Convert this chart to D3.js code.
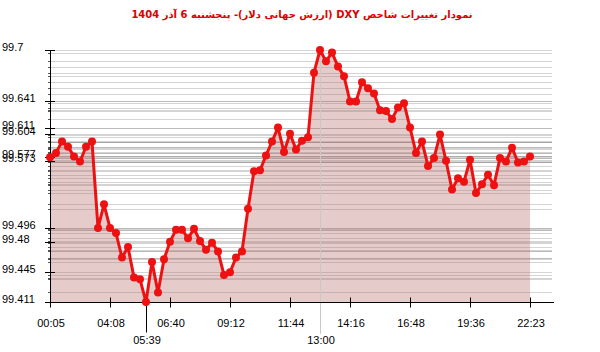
<!DOCTYPE html>
<html>
<head>
<meta charset="utf-8">
<script src="https://cdn.jsdelivr.net/npm/d3@7"></script>
<style>
  body { margin: 0; background: #fff; }
  text { font-family: "Liberation Sans", Arial, sans-serif; }
</style>
</head>
<body>
<svg id="chart" width="600" height="352"></svg>
<script>
// DXY values, one per sample
var values = [
  99.577, 99.582, 99.595, 99.589, 99.578, 99.572, 99.589, 99.595, 99.496, 99.523,
  99.496, 99.490, 99.462, 99.474, 99.439, 99.437, 99.411, 99.457, 99.422, 99.460,
  99.480, 99.494, 99.494, 99.484, 99.495, 99.481, 99.471, 99.479, 99.469, 99.442,
  99.445, 99.462, 99.469, 99.518, 99.561, 99.562, 99.579, 99.595, 99.611, 99.583,
  99.604, 99.586, 99.596, 99.600, 99.674, 99.700, 99.687, 99.697, 99.681, 99.670,
  99.641, 99.641, 99.663, 99.656, 99.650, 99.631, 99.630, 99.621, 99.634, 99.639,
  99.611, 99.582, 99.595, 99.567, 99.576, 99.603, 99.573, 99.540, 99.553, 99.549,
  99.574, 99.536, 99.546, 99.557, 99.545, 99.576, 99.572, 99.588, 99.571, 99.572,
  99.578
];
var tickIdx = [0, 10, 20, 30, 40, 50, 60, 70, 80];
var tickLabels = ["00:05", "04:08", "06:40", "09:12", "11:44", "14:16", "16:48", "19:36", "22:23"];
var minIdx = 16, minLabel = "05:39";
var maxIdx = 45, maxLabel = "13:00";
var yTicks = [99.7, 99.641, 99.611, 99.604, 99.577, 99.573, 99.496, 99.48, 99.445, 99.411];
var title = "نمودار تغییرات شاخص DXY (ارزش جهانی دلار)-  پنجشنبه  6 آذر 1404";

var svg = d3.select("#chart");
var mLeft = 50, mRight = 552, mTop = 50, mBottom = 302;

var x = d3.scalePoint().domain(d3.range(values.length)).range([mLeft, 530]);
var y = d3.scaleLinear().domain([99.411, 99.7]).range([mBottom, mTop]);

// horizontal lines at every value
svg.append("g")
  .selectAll("line")
  .data(values)
  .enter()
  .append("line")
  .attr("x1", mLeft).attr("x2", mRight)
  .attr("y1", d => Math.round(y(d)) + 0.5)
  .attr("y2", d => Math.round(y(d)) + 0.5)
  .attr("stroke", "#999")
  .attr("stroke-opacity", 0.42);

// area under the line
var area = d3.area()
  .x((d, i) => x(i))
  .y0(mBottom)
  .y1(d => y(d));
svg.append("path")
  .datum(values)
  .attr("d", area)
  .attr("fill", "#b86a6a")
  .attr("fill-opacity", 0.35);

// max marker line
svg.append("line")
  .attr("x1", x(maxIdx) + 0.5).attr("x2", x(maxIdx) + 0.5)
  .attr("y1", mTop - 2).attr("y2", 334)
  .attr("stroke", "#c8c8c8");

// x axis
var xAxis = svg.append("g")
  .attr("transform", "translate(0," + (mBottom + 0.5) + ")");
xAxis.append("line")
  .attr("x1", mLeft).attr("x2", mRight + 2)
  .attr("stroke", "#000");
xAxis.selectAll(".tk")
  .data(tickIdx)
  .enter()
  .append("line")
  .attr("x1", d => x(d) + 0.5).attr("x2", d => x(d) + 0.5)
  .attr("y1", -5).attr("y2", 5)
  .attr("stroke", "#000");
xAxis.selectAll(".lb")
  .data(tickIdx)
  .enter()
  .append("text")
  .attr("x", d => x(d) + 1)
  .attr("y", 24)
  .attr("text-anchor", "middle")
  .attr("font-size", 11)
  .text((d, i) => tickLabels[i]);

// min marker tick
xAxis.append("line")
  .attr("x1", x(minIdx) + 0.5).attr("x2", x(minIdx) + 0.5)
  .attr("y1", 0).attr("y2", 30)
  .attr("stroke", "#000");
xAxis.append("text")
  .attr("x", x(minIdx) + 1).attr("y", 41)
  .attr("text-anchor", "middle").attr("font-size", 11)
  .text(minLabel);
xAxis.append("text")
  .attr("x", x(maxIdx) + 1).attr("y", 41)
  .attr("text-anchor", "middle").attr("font-size", 11)
  .text(maxLabel);

// y axis
var yAxis = svg.append("g");
yAxis.append("line")
  .attr("x1", mLeft + 0.5).attr("x2", mLeft + 0.5)
  .attr("y1", mTop).attr("y2", mBottom + 5)
  .attr("stroke", "#000");
yAxis.selectAll(".minor")
  .data(values)
  .enter()
  .append("line")
  .attr("x1", mLeft - 2).attr("x2", mLeft)
  .attr("y1", d => Math.round(y(d)) + 0.5)
  .attr("y2", d => Math.round(y(d)) + 0.5)
  .attr("stroke", "#555");
yAxis.selectAll(".tk")
  .data(yTicks)
  .enter()
  .append("line")
  .attr("x1", mLeft - 5).attr("x2", mLeft + 5)
  .attr("y1", d => Math.round(y(d)) + 0.5)
  .attr("y2", d => Math.round(y(d)) + 0.5)
  .attr("stroke", "#000");
yAxis.selectAll(".lb")
  .data(yTicks)
  .enter()
  .append("text")
  .attr("x", 2)
  .attr("y", d => y(d) + 1)
  .attr("font-size", 11)
  .text(d => String(d));

// line and dots
var line = d3.line()
  .x((d, i) => x(i))
  .y(d => y(d));
svg.append("path")
  .datum(values)
  .attr("d", line)
  .attr("fill", "none")
  .attr("stroke", "#ee1111")
  .attr("stroke-width", 3)
  .attr("stroke-linejoin", "round");
svg.append("g")
  .selectAll("circle")
  .data(values)
  .enter()
  .append("circle")
  .attr("cx", (d, i) => x(i))
  .attr("cy", d => y(d))
  .attr("r", 4)
  .attr("fill", "#ee1111");

// title
svg.append("text")
  .attr("x", 302)
  .attr("y", 18)
  .attr("text-anchor", "middle")
  .attr("direction", "rtl")
  .attr("font-size", 10)
  .attr("font-weight", "bold")
  .attr("fill", "#e00000")
  .style("font-family", "'DejaVu Sans', sans-serif")
  .text(title);
</script>
</body>
</html>
